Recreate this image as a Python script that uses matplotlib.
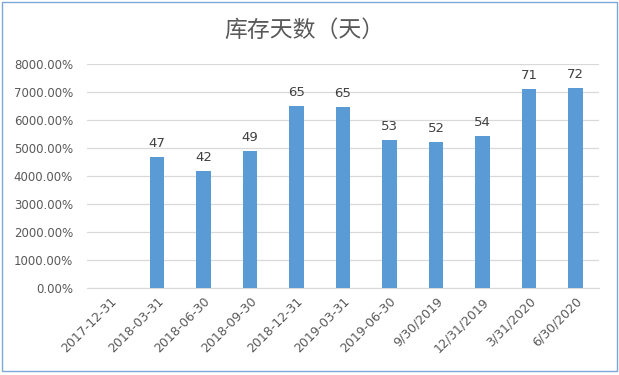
import numpy as np
import matplotlib.pyplot as plt
from matplotlib.ticker import FuncFormatter, MultipleLocator

plt.rcParams['font.family'] = ['DejaVu Sans', 'Noto Sans CJK SC']

# inventory days per quarter (first quarter has no value)
dates = ['2017-12-31', '2018-03-31', '2018-06-30', '2018-09-30', '2018-12-31',
         '2019-03-31', '2019-06-30', '9/30/2019', '12/31/2019', '3/31/2020', '6/30/2020']
days = [np.nan, 46.85, 41.84, 48.99, 65.09, 64.73, 52.93, 52.21, 54.36, 71.17, 71.52]

title = '库存天数（天）'
gray = '#595959'
bar_color = '#5b9bd5'

fig = plt.figure(figsize=(6.19, 3.75), dpi=100)
ax = fig.add_axes([0.1405, 0.232, 0.827, 0.5965])

x = np.arange(len(dates))
bars = ax.bar(x, days, width=0.31, color=bar_color, zorder=3)

for xi, v in zip(x, days):
    if np.isnan(v):
        continue
    ax.annotate(f'{v:.0f}', (xi, v), xytext=(0, 5), textcoords='offset points',
                ha='center', va='bottom', fontsize=9.5, color='#404040')

ax.set_xlim(-0.5, len(dates) - 0.5)
ax.set_ylim(0, 80)
ax.yaxis.set_major_locator(MultipleLocator(10))
ax.yaxis.set_major_formatter(FuncFormatter(lambda v, p: f'{v*100:.2f}%'))
ax.grid(axis='y', color='#d9d9d9', lw=0.9, zorder=0)

ax.set_xticks(x)
ax.set_xticklabels(dates, rotation=45, ha='right', rotation_mode='anchor')
ax.tick_params(axis='both', length=0, labelcolor=gray)
ax.tick_params(axis='y', pad=10, labelsize=8.5)
ax.tick_params(axis='x', pad=5, labelsize=9)

for s in ['top', 'right', 'left']:
    ax.spines[s].set_visible(False)
ax.spines['bottom'].set_color('#d9d9d9')

fig.text(0.492, 0.918, title, ha='center', va='center', fontsize=16.5,
         color=gray, family='Noto Sans CJK SC', fontweight='light')

# chart border
fig.patches.append(plt.Rectangle((0.004, 0.012), 0.992, 0.982, transform=fig.transFigure,
                                 fill=False, edgecolor='#7da7d9', lw=1))

fig.savefig('out.png', dpi=100)
